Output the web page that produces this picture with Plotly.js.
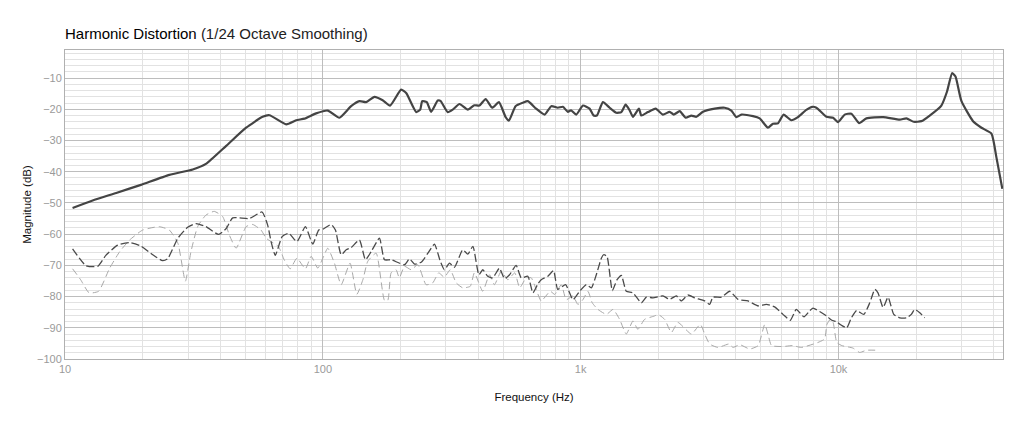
<!DOCTYPE html>
<html>
<head>
<meta charset="utf-8">
<script src="https://cdn.plot.ly/plotly-3.0.1.min.js"></script>
<style>
  html, body { margin: 0; padding: 0; background: #fff; }
  #chart { width: 1024px; height: 427px; }
</style>
</head>
<body>
<div id="chart"></div>
<script>
// values
const fundFreq = [10.7, 12.8, 15.8, 19.7, 25.4, 31.3, 35.2, 42.2, 50.4, 58.4, 62.1, 72.1, 78.8, 84.9, 94.2, 104.5, 115.9, 128.7, 138.7, 147.2, 158.6, 170.6, 182.3, 201.2, 210.5, 230.2, 238.6, 242.9, 253, 263, 279, 286, 305, 319, 339, 365, 387, 405, 428, 454, 482, 511, 527, 559, 597, 624, 672, 725, 769, 815, 853, 892, 918, 961, 1020, 1083, 1122, 1156, 1220, 1295, 1374, 1438, 1494, 1548, 1595, 1683, 1719, 1824, 1954, 2085, 2213, 2296, 2422, 2555, 2687, 2810, 2980, 3310, 3620, 3840, 4015, 4200, 4660, 4945, 5325, 5570, 5825, 6125, 6560, 6960, 7500, 7920, 8210, 8980, 9530, 9960, 10570, 11220, 12020, 12830, 14890, 17290, 18340, 19580, 20970, 22580, 25060, 26360, 27590, 28430, 29990, 33250, 35850, 39200, 40970, 43200];
const fundDb = [-51.6, -49.2, -46.8, -44.2, -41.0, -39.3, -37.5, -31.7, -25.9, -22.4, -21.9, -24.8, -23.5, -23.0, -21.3, -20.4, -22.7, -19.0, -17.4, -17.7, -16.0, -17.1, -18.8, -13.7, -14.8, -20.9, -20.1, -17.4, -17.7, -20.8, -17.2, -17.3, -20.9, -20.1, -18.3, -20.1, -18.7, -18.8, -16.7, -19.5, -17.7, -22.4, -23.6, -19.0, -17.9, -17.4, -19.8, -21.7, -19.0, -19.5, -19.2, -20.8, -20.3, -21.7, -18.8, -19.8, -22.0, -22.0, -17.7, -19.5, -21.1, -20.9, -18.5, -20.3, -22.4, -19.8, -22.0, -20.9, -19.8, -21.7, -20.8, -21.7, -20.6, -22.7, -22.0, -22.4, -20.8, -19.8, -19.5, -20.4, -22.5, -21.7, -22.2, -22.9, -25.9, -24.6, -24.5, -21.7, -23.5, -22.5, -20.2, -19.2, -19.5, -22.4, -22.7, -24.1, -21.7, -21.4, -24.4, -22.9, -22.5, -23.3, -22.9, -24.0, -23.8, -22.0, -18.8, -14.3, -8.4, -9.5, -17.4, -23.8, -25.9, -27.8, -35.4, -45.5];

const h2Freq = [10.7, 12.06, 13.4, 14.4, 16.0, 17.8, 19.7, 21.9, 23.9, 25.0, 27.4, 29.9, 32.2, 35.2, 39.4, 42.2, 44.7, 51.9, 58.1, 61.1, 63, 65.4, 69.5, 73.8, 79.3, 85.6, 91.4, 96.4, 100, 107.8, 111.9, 117.8, 123.2, 128.7, 138.7, 146.3, 154, 165.8, 173.4, 184, 207.4, 216.8, 226.8, 240.8, 255.6, 271, 285, 296, 310, 324, 349, 365, 382, 403, 417, 436, 456, 484, 507, 530, 562, 588, 624, 653, 683, 703, 746, 785, 815, 874, 934, 991, 1052, 1100, 1150, 1203, 1228, 1265, 1327, 1384, 1438, 1503, 1595, 1719, 1798, 1907, 2085, 2213, 2350, 2457, 2606, 2766, 3027, 3165, 3260, 3515, 3785, 4077, 4457, 4880, 5250, 5655, 6090, 6505, 6860, 7345, 7725, 7960, 8450, 8980, 9420, 9850, 10140, 10760, 11220, 11750, 12540, 13220, 13830, 14230, 14890, 15570, 16380, 17290, 18340, 19160, 19750, 20660, 21600];
const h2Db = [-64.7, -70.1, -70.3, -66.8, -63.5, -62.7, -63.8, -66.6, -68.5, -67.9, -61.3, -57.8, -56.6, -57.6, -60.1, -58.2, -54.8, -55.0, -52.9, -57.1, -62.4, -66.8, -60.8, -59.7, -62.4, -57.6, -63.2, -58.7, -58.4, -56.9, -58.7, -66.6, -65.0, -64.3, -61.9, -68.2, -65.6, -61.3, -68.2, -68.2, -69.8, -67.9, -69.6, -69.0, -66.1, -63.2, -68.5, -71.4, -69.3, -70.6, -65.0, -66.4, -63.9, -73.0, -71.4, -73.5, -74.0, -70.9, -74.3, -73.0, -70.0, -74.0, -73.5, -78.8, -75.9, -74.6, -73.5, -71.7, -77.7, -76.2, -81.0, -78.3, -76.2, -77.2, -73.0, -67.7, -66.6, -67.1, -78.1, -74.6, -73.2, -78.3, -78.8, -82.0, -80.2, -80.4, -79.8, -80.9, -79.8, -81.4, -79.5, -80.4, -81.4, -82.5, -80.2, -80.2, -78.3, -80.9, -81.4, -83.0, -82.5, -83.3, -85.7, -87.6, -84.1, -86.5, -84.6, -83.7, -84.8, -86.2, -87.6, -88.1, -88.9, -90.0, -86.8, -84.5, -85.7, -82.0, -77.7, -78.8, -83.5, -80.2, -85.7, -86.8, -86.8, -85.7, -84.1, -85.2, -86.8];

const h3Freq = [10.7, 11.5, 12.4, 13.5, 14.9, 16.3, 17.8, 20, 23.2, 25.4, 27.4, 29.3, 30.8, 32.7, 35.2, 37.9, 40.9, 43.4, 46.1, 50.4, 53.5, 57.6, 60.3, 67.3, 70.8, 74.7, 79.3, 85.6, 90.1, 95.6, 100, 104.5, 110.9, 117.8, 127.5, 135.5, 143, 149.4, 161, 173.4, 178.6, 184, 192.3, 198, 207.4, 220, 233.6, 251.5, 266.9, 281.5, 296, 312, 329, 349, 373, 387, 417, 443, 463, 492, 522, 555, 580, 615, 643, 672, 703, 762, 793, 841, 879, 934, 975, 1020, 1067, 1109, 1166, 1259, 1335, 1416, 1503, 1595, 1667, 1770, 1936, 1994, 2117, 2248, 2384, 2687, 2911, 3027, 3165, 3410, 3760, 3900, 4138, 4525, 4880, 5175, 5325, 5500, 6090, 6650, 7170, 8320, 8830, 9020, 9290, 9530, 9850, 10300, 11380, 12080, 12830, 14230];
const h3Db = [-71.1, -74.6, -78.8, -78.3, -70.9, -65.6, -61.9, -58.7, -57.6, -58.7, -62.9, -75.1, -65.6, -57.6, -53.9, -52.7, -54.4, -60.3, -64.5, -57.6, -56.9, -58.7, -61.3, -64.0, -68.2, -71.1, -67.7, -71.1, -67.1, -70.9, -67.7, -64.5, -69.3, -76.2, -69.3, -79.3, -74.6, -68.7, -66.1, -81.2, -81.2, -72.4, -71.4, -74.0, -70.3, -71.4, -69.8, -76.2, -75.6, -72.4, -73.8, -71.4, -75.6, -77.2, -76.7, -72.4, -78.3, -73.0, -76.2, -71.9, -74.6, -72.4, -77.2, -74.0, -74.0, -77.7, -81.4, -78.3, -79.3, -76.2, -81.0, -79.8, -82.5, -81.0, -78.3, -82.0, -84.1, -85.7, -84.1, -87.3, -92.0, -87.8, -90.5, -87.3, -86.2, -85.7, -87.3, -91.5, -88.3, -92.0, -88.9, -92.0, -95.2, -96.3, -95.2, -96.3, -95.4, -96.8, -95.7, -88.9, -92.0, -95.7, -96.0, -95.7, -96.3, -94.7, -93.6, -88.9, -87.3, -88.3, -94.7, -95.7, -96.5, -97.9, -97.2, -97.2];

const xTickVals = [10, 100, 1000, 10000];
const xTickText = ["10", "100", "1k", "10k"];

// log minor grid positions 2..9 in each decade
const minorX = [];
for (let d = 10; d <= 10000; d *= 10) {
  for (let m = 2; m <= 9; m++) minorX.push(m * d);
}

const data = [
  {
    x: h3Freq, y: h3Db, type: "scatter", mode: "lines",
    line: { color: "#a8a8a8", width: 1, dash: "7px,4px", shape: "spline", smoothing: 0.5 },
    hoverinfo: "skip",
  },
  {
    x: h2Freq, y: h2Db, type: "scatter", mode: "lines",
    line: { color: "#4a4a4a", width: 1.3, dash: "8px,3px", shape: "spline", smoothing: 0.5 },
    hoverinfo: "skip",
  },
  {
    x: fundFreq, y: fundDb, type: "scatter", mode: "lines",
    line: { color: "#444444", width: 2.2, shape: "spline", smoothing: 0.5 },
    hoverinfo: "skip",
  },
]

const tickFont = { family: "Liberation Sans, Arial, sans-serif", size: 11, color: "#9a9a9a" }

Plotly.newPlot("chart", data, {
  width: 1024,
  height: 427,
  showlegend: false,
  paper_bgcolor: "#fff",
  plot_bgcolor: "#fff",
  margin: { l: 65, r: 21, t: 50, b: 68 },
  font: { family: "Liberation Sans, Arial, sans-serif", color: "#111" },
  title: {
    text: "Harmonic Distortion <span style='color:#222'>(1/24 Octave Smoothing)</span>",
    font: { size: 15, color: "#000" },
    xref: "paper", x: 0, xanchor: "left",
    yref: "container", y: 1 - 34 / 427, yanchor: "middle",
  },
  xaxis: {
    type: "log",
    range: [1, 4.638],
    tickmode: "array",
    tickvals: xTickVals,
    ticktext: xTickText,
    tickfont: tickFont,
    ticks: "",
    showgrid: true,
    gridcolor: "#bdbdbd",
    gridwidth: 1,
    showline: true,
    linecolor: "#b0b0b0",
    mirror: true,
    zeroline: false,
    minor: { tickmode: "array", tickvals: minorX, showgrid: true, gridcolor: "#e2e2e2", ticks: "" },
    title: { text: "Frequency (Hz)", font: { size: 11.5, color: "#111" }, standoff: 18 },
  },
  yaxis: {
    range: [-100, -1],
    dtick: 10,
    tick0: 0,
    tickfont: tickFont,
    ticks: "",
    showgrid: true,
    gridcolor: "#bdbdbd",
    showline: true,
    linecolor: "#b0b0b0",
    mirror: true,
    zeroline: false,
    minor: { dtick: 2, showgrid: true, gridcolor: "#e2e2e2", ticks: "" },
    title: { text: "Magnitude (dB)", font: { size: 11.5, color: "#111" }, standoff: 2 },
  },
}, { displayModeBar: false, staticPlot: true })
</script>
</body>
</html>
